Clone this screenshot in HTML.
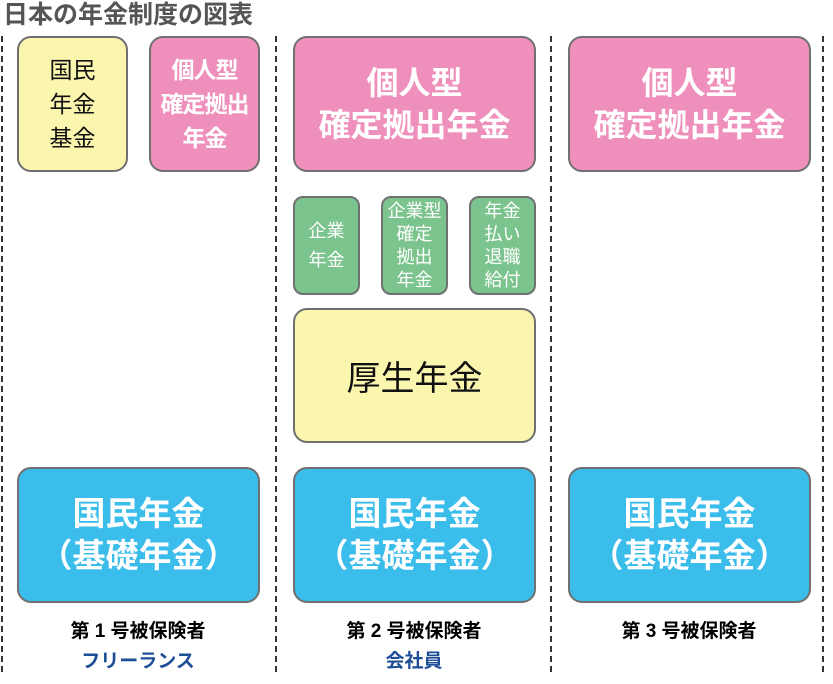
<!DOCTYPE html>
<html><head><meta charset="utf-8"><style>
body{margin:0;width:833px;height:684px;background:#fff;position:relative;overflow:hidden;font-family:"Liberation Sans","Noto Sans CJK JP",sans-serif}
.t{position:absolute;left:3px;top:0;font-size:25px;font-weight:bold;color:#555;line-height:30px}
.d{position:absolute;top:36px;height:636px;border-left:2px dashed #333;width:0}
.b{position:absolute;box-sizing:border-box;border:2px solid #707070;border-radius:14px;display:flex;align-items:center;justify-content:center;text-align:center}
.y{background:#fbf6ae;color:#111}
.p{background:#ee90bb;color:#fff;font-weight:bold}
.g{background:#7cc48e;color:#fff;border-radius:10px;font-size:18px;line-height:23px}
.bl{background:#3bbdec;color:#fff;font-weight:bold;font-size:33px;line-height:42px}
.l{position:absolute;width:242px;text-align:center;font-weight:bold;font-size:19px}
</style></head><body>
<div class="t">日本の年金制度の図表</div>
<div class="d" style="left:1px"></div>
<div class="d" style="left:275px"></div>
<div class="d" style="left:550px"></div>
<div class="d" style="left:822px"></div>

<div class="b y" style="left:17px;top:36px;width:111px;height:136px;font-size:23px;line-height:34px">国民<br>年金<br>基金</div>
<div class="b p" style="left:149px;top:36px;width:111px;height:136px;font-size:23px;line-height:34px;letter-spacing:-1px">個人型<br>確定拠出<br>年金</div>
<div class="b p" style="left:293px;top:36px;width:243px;height:136px;font-size:32px;line-height:42px">個人型<br>確定拠出年金</div>
<div class="b p" style="left:568px;top:36px;width:243px;height:136px;font-size:32px;line-height:42px">個人型<br>確定拠出年金</div>

<div class="b g" style="left:293px;top:196px;width:67px;height:99px;line-height:29px">企業<br>年金</div>
<div class="b g" style="left:381px;top:196px;width:67px;height:99px">企業型<br>確定<br>拠出<br>年金</div>
<div class="b g" style="left:469px;top:196px;width:67px;height:99px">年金<br>払い<br>退職<br>給付</div>

<div class="b y" style="left:293px;top:308px;width:243px;height:135px;font-size:34px">厚生年金</div>

<div class="b bl" style="left:17px;top:467px;width:243px;height:136px">国民年金<br>（基礎年金）</div>
<div class="b bl" style="left:293px;top:467px;width:243px;height:136px">国民年金<br>（基礎年金）</div>
<div class="b bl" style="left:568px;top:467px;width:243px;height:136px">国民年金<br>（基礎年金）</div>

<div class="l" style="left:17px;top:616px">第 1 号被保険者</div>
<div class="l" style="left:17px;top:646px;color:#1e4f96">フリーランス</div>
<div class="l" style="left:293px;top:616px">第 2 号被保険者</div>
<div class="l" style="left:293px;top:646px;color:#1e4f96">会社員</div>
<div class="l" style="left:568px;top:616px">第 3 号被保険者</div>
</body></html>
